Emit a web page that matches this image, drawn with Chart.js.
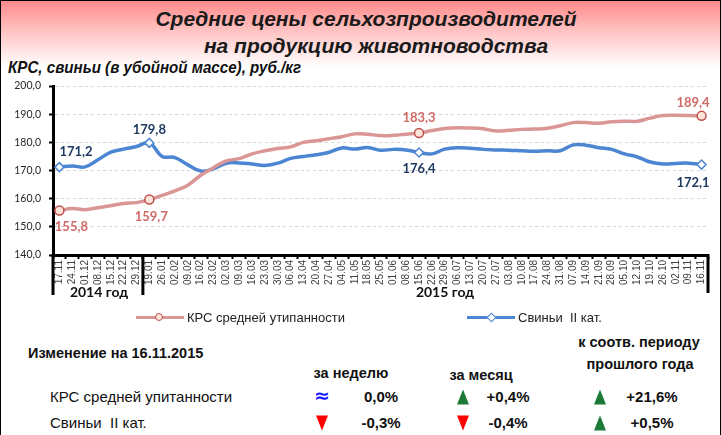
<!DOCTYPE html>
<html><head><meta charset="utf-8">
<script src="https://cdn.jsdelivr.net/npm/chart.js@4.4.1/dist/chart.umd.min.js"></script>
<style>
html,body{margin:0;padding:0;}
body{width:721px;height:435px;position:relative;overflow:hidden;background:#fff;font-family:"Liberation Sans",Arial,sans-serif;color:#111;}
#frame{position:absolute;left:0;top:0;width:721px;height:435px;box-sizing:border-box;border:1px solid #000;border-bottom:none;pointer-events:none;}
#head{position:absolute;left:1px;top:1px;width:719px;height:66px;background:linear-gradient(to bottom,#ff8a8a 0%,#ffc2c2 45%,#ffffff 100%);}
.t{position:absolute;white-space:pre;line-height:1;}
.c{transform:translate(-50%,-50%);}
.l{transform:translateY(-50%);}
.ti{font-weight:bold;font-style:italic;font-size:21px;color:#1a1a1a;}
.sub{font-weight:bold;font-style:italic;font-size:17px;color:#111;transform:translateY(-50%) scaleX(0.89);transform-origin:0 50%;}
.yr{font-family:Lato,sans-serif;font-weight:bold;font-size:14px;color:#111;}
.lg{font-size:13px;color:#222;}
.hd{font-weight:bold;font-size:14.5px;color:#111;}
.rw{font-size:15px;color:#111;}
.pc{font-weight:bold;font-size:15px;color:#111;}
.tri{position:absolute;width:0;height:0;border-left:6px solid transparent;border-right:6px solid transparent;transform:translate(-50%,-50%);}
.up{border-bottom:15px solid #1b7a37;}
.dn{border-top:15px solid #ff0000;}
.ap{position:absolute;color:#1a1aff;font-weight:bold;font-size:19px;font-family:"DejaVu Sans",sans-serif;transform:translate(-50%,-50%);line-height:1;}
canvas{position:absolute;left:0;top:0;}
</style>
</head><body>
<div id="head"></div>
<div class="t c ti" style="left:366px;top:18px;">Средние цены сельхозпроизводителей</div>
<div class="t c ti" style="left:376px;top:45px;">на продукцию животноводства</div>
<div class="t sub" style="left:8px;top:67px;">КРС, свиньи (в убойной массе), руб./кг</div>
<canvas id="chart" width="721" height="300"></canvas>
<div class="t c yr" style="left:99px;top:292px;">2014 год</div>
<div class="t c yr" style="left:445px;top:292px;">2015 год</div>

<div id="legend"></div>

<div class="t l hd" style="left:28px;top:353px;">Изменение на 16.11.2015</div>
<div class="t c hd" style="left:351px;top:373px;">за неделю</div>
<div class="t c hd" style="left:481px;top:375px;">за месяц</div>
<div class="t c hd" style="left:639px;top:342px;">к соотв. периоду</div>
<div class="t c hd" style="left:640px;top:364px;">прошлого года</div>
<div id="table"></div>
<div id="frame"></div>

<script>
// ---- data ----
const labels2014 = ['17.11','24.11','01.12','08.12','15.12','22.12','29.12'];
const labels2015 = ['19.01','26.01','02.02','09.02','16.02','23.02','02.03','09.03','16.03','23.03','30.03',
  '06.04','13.04','20.04','27.04','04.05','11.05','18.05','25.05','01.06','08.06','15.06','22.06','29.06',
  '06.07','13.07','20.07','27.07','03.08','10.08','17.08','24.08','31.08','07.09','14.09','21.09','28.09',
  '05.10','12.10','19.10','26.10','02.11','09.11','16.11'];
const categories = labels2014.concat(labels2015);

const seriesNames = ['КРС средней утипанности', 'Свиньи  II кат.'];
const cattle = [155.8,156.5,156.1,156.8,157.5,158.3,158.6,159.7,161.2,162.8,164.8,168.3,171.0,173.4,174.2,
  175.9,177.0,177.8,178.4,180.0,180.6,181.3,182.0,183.0,182.9,182.4,182.5,182.9,183.3,184.2,184.9,185.2,
  185.1,184.8,184.0,184.3,184.6,184.7,185.0,185.9,187.0,187.0,186.8,187.3,187.5,187.5,188.6,189.5,189.6,189.5,189.4];
const pigs = [171.2,171.6,171.3,173.8,176.5,177.6,178.5,179.8,175.0,174.6,172.0,169.8,170.6,172.6,172.7,
  172.3,171.8,172.6,174.3,175.0,175.6,176.5,178.0,177.6,178.2,177.2,177.5,177.3,176.4,175.9,177.6,178.1,
  177.9,177.5,177.3,177.2,177.0,176.8,177.0,177.0,179.1,179.0,178.1,177.5,175.9,174.8,173.0,172.3,172.5,172.6,172.1];
const highlighted = [0, 7, 28, 50];

const yTicksMin = 140, yTicksMax = 200, yStep = 10;

const rowNames = ['КРС средней упитанности', 'Свиньи  II кат.'];
const weekChange  = ['0,0%', '-0,3%'];
const monthChange = ['+0,4%', '-0,4%'];
const yearChange  = ['+21,6%', '+0,5%'];
const weekDir  = ['eq', 'down'];
const monthDir = ['up', 'down'];
const yearDir  = ['up', 'up'];

// ---- styles ----
const redLine = '#DA9694', blueLine = '#4C85D1';
const fmt = v => v.toFixed(1).replace('.', ',');

// ---- legend (HTML) ----
(function(){
  const lg = document.getElementById('legend');
  const items = [
    {x:136, color:redLine, marker:'circle', text:seriesNames[0]},
    {x:467, color:blueLine, marker:'diamond', text:seriesNames[1]}
  ];
  items.forEach(it=>{
    const line = document.createElement('div');
    line.style.cssText = `position:absolute;left:${it.x}px;top:316px;width:48px;height:3px;background:${it.color};`;
    lg.appendChild(line);
    const m = document.createElement('div');
    if (it.marker==='circle') {
      m.style.cssText = `position:absolute;left:${it.x+19}px;top:313px;width:6px;height:6px;border:1.5px solid #C0504D;border-radius:50%;background:#fde3d9;`;
    } else {
      m.style.cssText = `position:absolute;left:${it.x+21}px;top:314px;width:5px;height:5px;border:1.5px solid ${it.color};background:#fff;transform:rotate(45deg);`;
    }
    lg.appendChild(m);
    const tx = document.createElement('div');
    tx.className = 't l lg';
    tx.style.left = (it.x+51)+'px'; tx.style.top = '317px';
    tx.textContent = it.text;
    lg.appendChild(tx);
  });
})();

// ---- table (HTML) ----
(function(){
  const tb = document.getElementById('table');
  const rowY = [396, 422];
  const symX = [322, 463, 600], valX = [381, 508, 652];
  function add(cls, x, y, txt){ const d=document.createElement('div'); d.className=cls; d.style.left=x+'px'; d.style.top=y+'px'; if(txt) d.textContent=txt; tb.appendChild(d); }
  rowNames.forEach((n,r)=>{
    add('t l rw', 50, rowY[r], n);
    [weekDir, monthDir, yearDir].forEach((dir,c)=>{
      if (dir[r]==='eq') add('ap', symX[c], rowY[r]-1, '≈');
      else add('tri '+(dir[r]==='up'?'up':'dn'), symX[c], rowY[r]+1, '');
    });
    [weekChange, monthChange, yearChange].forEach((vals,c)=> add('t c pc', valX[c], rowY[r], vals[r]));
  });
})();

// ---- chart ----
const bracket = {
  id:'bracket',
  afterDraw(chart){
    const {ctx, chartArea:a, scales:{x}} = chart;
    const sep = (x.getPixelForValue(labels2014.length-1) + x.getPixelForValue(labels2014.length))/2;
    ctx.save(); ctx.strokeStyle='#000'; ctx.lineWidth=3;
    [[a.left, 40],[sep, 40],[a.right, 38]].forEach(([px,len])=>{
      ctx.beginPath(); ctx.moveTo(px, a.bottom-1); ctx.lineTo(px, a.bottom+len); ctx.stroke();
    });
    ctx.restore();
  }
};
const labelSpec = [
  {ds:0, i:0,  dx:12, dy:16, color:'#D06A66', align:'center'},
  {ds:0, i:7,  dx:2,  dy:17, color:'#D06A66', align:'center'},
  {ds:0, i:28, dx:0,  dy:-15, color:'#D06A66', align:'center'},
  {ds:0, i:50, dx:8,  dy:-13, color:'#D06A66', align:'right'},
  {ds:1, i:0,  dx:0,  dy:-15, color:'#1F3A60', align:'left'},
  {ds:1, i:7,  dx:0,  dy:-13, color:'#1F3A60', align:'center'},
  {ds:1, i:28, dx:0,  dy:16, color:'#1F3A60', align:'center'},
  {ds:1, i:50, dx:8,  dy:18, color:'#1F3A60', align:'right'}
];
const valueLabels = {
  id:'valueLabels',
  afterDatasetsDraw(chart){
    const ctx = chart.ctx;
    ctx.save();
    ctx.font = 'bold 13px Lato, sans-serif';
    ctx.textBaseline = 'middle';
    labelSpec.forEach(s=>{
      const pt = chart.getDatasetMeta(s.ds).data[s.i];
      const v = chart.data.datasets[s.ds].data[s.i];
      ctx.fillStyle = s.color; ctx.textAlign = s.align;
      ctx.fillText(fmt(v), pt.x + s.dx, pt.y + s.dy);
    });
    ctx.restore();
  }
};
const radii = (r) => categories.map((_,i)=> highlighted.includes(i) ? r : 0);

new Chart(document.getElementById('chart'), {
  type:'line',
  data:{
    labels: categories,
    datasets:[
      {label:seriesNames[0], data:cattle, borderColor:redLine, borderWidth:3.5, tension:0.4,
       pointStyle:'circle', pointRadius:radii(4.5), pointBorderColor:'#C0504D', pointBackgroundColor:'#fde3d9', pointBorderWidth:1.5},
      {label:seriesNames[1], data:pigs, borderColor:blueLine, borderWidth:3.5, tension:0.4,
       pointStyle:'rectRot', pointRadius:radii(4.5), pointBorderColor:blueLine, pointBackgroundColor:'#ffffff', pointBorderWidth:1.5}
    ]
  },
  options:{
    responsive:false, animation:false,
    layout:{padding:{left:0, right:13, top:86, bottom:5}},
    plugins:{legend:{display:false}, tooltip:{enabled:false}},
    scales:{
      x:{
        type:'category', offset:true,
        grid:{display:true, drawOnChartArea:false, drawTicks:true, tickLength:4, tickColor:'#000', tickWidth:2, offset:true},
        border:{display:true, color:'#000', width:3},
        ticks:{autoSkip:false, maxRotation:90, minRotation:90, padding:1, font:{family:'Liberation Sans', size:10}, color:'#404040'},
        afterFit(s){ s.height = 40; }
      },
      y:{
        min:yTicksMin, max:yTicksMax,
        ticks:{stepSize:yStep, callback:v=>fmt(v), padding:8, font:{family:'Lato', size:10.5}, color:'#262626'},
        grid:{color:'#d6d6d6', lineWidth:1, drawTicks:true, tickLength:4, tickColor:'#000', tickWidth:2},
        border:{display:true, color:'#000', width:3, dash:[3,3]},
        afterFit(s){ s.width = 53; }
      }
    }
  },
  plugins:[bracket, valueLabels]
});
</script>
</body></html>
